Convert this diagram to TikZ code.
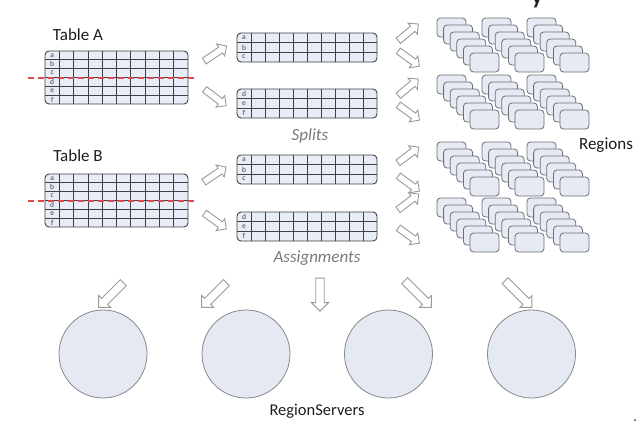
\documentclass[tikz,border=0pt]{standalone}
\usepackage{fontspec}
\setmainfont{Carlito}
\usetikzlibrary{shapes.arrows}
\definecolor{tblfill}{HTML}{E8ECF4}
\definecolor{gridc}{HTML}{3E4149}
\definecolor{boxfill}{HTML}{E6EAF2}
\definecolor{boxc}{HTML}{6E7078}
\definecolor{circfill}{HTML}{E4E9F2}
\definecolor{circc}{HTML}{85878C}
\definecolor{arrc}{HTML}{9A9A9A}
\definecolor{cutc}{HTML}{E2474A}
\definecolor{capc}{HTML}{7A7A7A}
\definecolor{titc}{HTML}{1E1E1E}
\tikzset{
  tablebox/.style={draw=gridc, fill=tblfill, rounded corners=4pt, line width=0.9pt, inner sep=0pt, outer sep=0pt},
  gridl/.style={draw=gridc, line width=0.75pt},
  rowlbl/.style={font=\fontsize{7.5}{8}\selectfont, text=gridc, inner sep=0pt},
  regbox/.style={draw=boxc, fill=boxfill, rounded corners=3.5pt, line width=0.8pt, minimum width=29pt, minimum height=19pt, inner sep=0pt, outer sep=0pt},
  server/.style={circle, draw=circc, fill=circfill, line width=0.8pt, minimum size=88pt, inner sep=0pt},
  barrow/.style={single arrow, draw=arrc, fill=white, line width=0.9pt, inner sep=3pt, single arrow head extend=3.8pt, minimum height=#1},
  bigarrow/.style={single arrow, draw=arrc, fill=white, line width=0.9pt, inner sep=3.8pt, single arrow head extend=4.2pt, minimum height=#1},
  title/.style={font=\fontsize{17}{20}\selectfont, text=titc, inner sep=0pt},
  caption/.style={font=\fontsize{17}{20}\selectfont\itshape, text=capc, inner sep=0pt},
  cutline/.style={draw=cutc, line width=1.1pt, dash pattern=on 6pt off 4pt},
}
\newcommand{\mktable}[7]{%
  \node[tablebox, anchor=north west, minimum width=#4pt, minimum height=#5pt] (#1) at (#2,#3) {};
  \foreach \ci in {1,...,9} \draw[gridl] ({#2+\ci*#4/10},#3) -- ({#2+\ci*#4/10},{#3+#5});
  \foreach \li [count=\ki] in {#7} {%
    \ifnum\ki<#6 \draw[gridl] (#2,{#3+\ki*#5/#6}) -- ({#2+#4},{#3+\ki*#5/#6});\fi
    \node[rowlbl] at ({#2+#4/20},{#3+(\ki-0.5)*#5/#6}) {\li};
  }
}
\begin{document}
\begin{tikzpicture}[x=1pt, y=-1pt]
\useasboundingbox (0,0) rectangle (640,424);
\fill[white] (0,0) rectangle (640,424);

% title fragment at top (cut by the picture's edge, as in the reference)
\begin{scope}
\clip (0,0) rectangle (640,424);
\node[font=\fontsize{22}{24}\selectfont\bfseries, text=titc, anchor=base, inner sep=0pt] (yfrag) at (537,4) {y};
\end{scope}

% source tables
\node[title] (ta) at (78,35) {Table A};
\mktable{tabA}{45}{51}{143}{53}{6}{a,b,c,d,e,f}
\node[title] (tb) at (78,156) {Table B};
\mktable{tabB}{45}{174}{143}{53}{6}{a,b,c,d,e,f}

\coordinate (cutA1) at (28,78);
\coordinate (cutA2) at (195,78);
\draw[cutline] (cutA1) -- (cutA2);
\coordinate (cutB1) at (28,201);
\coordinate (cutB2) at (195,201);
\draw[cutline] (cutB1) -- (cutB2);

% splits
\mktable{s1}{237}{33}{140}{29}{3}{a,b,c}
\mktable{s2}{237}{89}{140}{29}{3}{d,e,f}
\mktable{s3}{237}{155}{140}{29}{3}{a,b,c}
\mktable{s4}{237}{212}{140}{29}{3}{d,e,f}

\node[caption] (splits) at (310,136) {Splits};
\node[caption] (assign) at (317,258) {Assignments};

% arrows table -> splits
\node[barrow=27pt, rotate=34] (aA1) at (214,54.5) {};
\node[barrow=27pt, rotate=-37] (aA2) at (214,96.5) {};
\node[barrow=27pt, rotate=34] (aB1) at (213.5,175.5) {};
\node[barrow=27pt, rotate=-36] (aB2) at (214,220) {};

% arrows splits -> regions
\node[barrow=26pt, rotate=40] (ar1) at (407,33.5) {};
\node[barrow=26pt, rotate=-36] (ar2) at (407.5,57.5) {};
\node[barrow=26pt, rotate=40] (ar3) at (407,88.5) {};
\node[barrow=26pt, rotate=-36] (ar4) at (407.5,111.5) {};
\node[barrow=26pt, rotate=37] (ar5) at (407,156) {};
\node[barrow=26pt, rotate=-36] (ar6) at (407.5,182.5) {};
\node[barrow=26pt, rotate=37] (ar7) at (407,203) {};
\node[barrow=26pt, rotate=-36] (ar8) at (407.5,234.5) {};

% regions
\foreach \gy [count=\gi] in {18,75,142,198}
  \foreach \gx [count=\hi] in {437,482,527}
    \foreach \k in {0,...,5}
      \node[regbox, anchor=north west] (r\gi-\hi-\k) at ({\gx+\k*6.6},{\gy+\k*7}) {};
\node[title] (regions) at (606,145) {Regions};

% region servers
\node[server] (rs1) at (103,354) {};
\node[server] (rs2) at (246,354) {};
\node[server] (rs3) at (388.5,354) {};
\node[server] (rs4) at (531.5,354) {};
\node[font=\fontsize{16.5}{20}\selectfont, text=titc, inner sep=0pt] (rslabel) at (317,411) {RegionServers};

% assignment arrows
\node[bigarrow=35pt, rotate=-135] (as1) at (112.5,293.5) {};
\node[bigarrow=35pt, rotate=-135] (as2) at (215.5,293.5) {};
\node[bigarrow=33pt, rotate=-90] (as3) at (320,292.5) {};
\node[bigarrow=38pt, rotate=-45] (as4) at (416.5,292.5) {};
\node[bigarrow=38pt, rotate=-45] (as5) at (517,292.5) {};

\node[circle, fill=black!80, inner sep=0pt, minimum size=2pt] (dot) at (635,420) {};
\end{tikzpicture}
\end{document}
